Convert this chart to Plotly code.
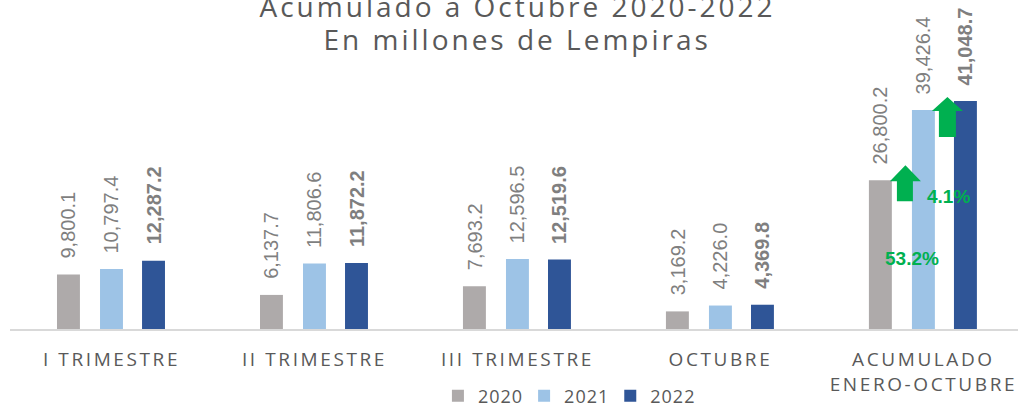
import plotly.graph_objects as go

categories = ["I TRIMESTRE", "II TRIMESTRE", "III TRIMESTRE", "OCTUBRE", "ACUMULADO<br>ENERO-OCTUBRE"]
years = ["2020", "2021", "2022"]
v2020 = [9800.1, 6137.7, 7693.2, 3169.2, 26800.2]
v2021 = [10797.4, 11806.6, 12596.5, 4226.0, 39426.4]
v2022 = [12287.2, 11872.2, 12519.6, 4369.8, 41048.7]
growth_labels = ["53.2%", "4.1%"]
title_lines = ["Acumulado a Octubre 2020-2022", "En millones de Lempiras"]

colors = ["#AEAAAA", "#9DC3E6", "#2F5597"]
series = [v2020, v2021, v2022]
centers = [-0.212, 0.0, 0.207]
bar_w = 0.113

xs = list(range(len(categories)))
YMAX = 59233
PX_X = 1 / 203.0       # category units per pixel
PX_Y = YMAX / 329.0    # value units per pixel

fig = go.Figure()
for i, (yr, vals) in enumerate(zip(years, series)):
    fig.add_trace(go.Bar(
        x=xs, y=vals, name=yr,
        marker=dict(color=colors[i], line=dict(width=0)),
        width=bar_w, offset=centers[i] - bar_w / 2,
        hovertemplate="%{y:,.1f}<extra>" + yr + "</extra>",
    ))

# value labels (rotated, above each bar)
for i, vals in enumerate(series):
    bold = i == 2
    for xc, v in zip(xs, vals):
        fig.add_annotation(
            x=xc + centers[i], y=v, xref="x", yref="y",
            text=(f"<b>{v:,.1f}</b>" if bold else f"{v:,.1f}"),
            textangle=-90, showarrow=False, xanchor="center", yanchor="bottom", yshift=14,
            font=dict(family="Liberation Sans, Arial", size=20, color="#7F7F7F"),
        )

# growth arrows on the accumulated group
def arrow_path(xc, x_head_l, x_head_r, x_sh_l, x_sh_r, y_tip, y_base, y_bot):
    return (f"M {xc + x_sh_l} {y_bot} L {xc + x_sh_r} {y_bot} L {xc + x_sh_r} {y_base} "
            f"L {xc + x_head_r} {y_base} L {xc + (x_head_l + x_head_r) / 2} {y_tip} "
            f"L {xc + x_head_l} {y_base} L {xc + x_sh_l} {y_base} Z")

k = len(categories) - 1
a1_base = v2020[k]
a2_base = v2021[k]
fig.add_shape(type="path", xref="x", yref="y", fillcolor="#00B050", line=dict(width=0),
              path=arrow_path(k, -33.5 * PX_X, -2.5 * PX_X, -26.5 * PX_X, -10.5 * PX_X,
                              a1_base + 15 * PX_Y, a1_base - 1 * PX_Y, a1_base - 21 * PX_Y))
fig.add_shape(type="path", xref="x", yref="y", fillcolor="#00B050", line=dict(width=0),
              path=arrow_path(k, 8.5 * PX_X, 39.5 * PX_X, 15.5 * PX_X, 32.5 * PX_X,
                              a2_base + 13 * PX_Y, a2_base - 1 * PX_Y, a2_base - 27 * PX_Y))
fig.add_annotation(x=k - 11.5 * PX_X, y=71 * PX_Y, xref="x", yref="y", text=f"<b>{growth_labels[0]}</b>",
                   showarrow=False, font=dict(family="Liberation Sans Narrow, Arial Narrow, Liberation Sans", size=19, color="#00B050"))
fig.add_annotation(x=k + 25.5 * PX_X, y=133 * PX_Y, xref="x", yref="y", text=f"<b>{growth_labels[1]}</b>",
                   showarrow=False, font=dict(family="Liberation Sans Narrow, Arial Narrow, Liberation Sans", size=19, color="#00B050"))

# title (two lines)
fig.add_annotation(x=0.503, y=0.9818, xref="paper", yref="paper", xanchor="center", yanchor="middle",
                   text=title_lines[0], showarrow=False, name="title",
                   font=dict(family="Open Sans", size=28, color="#595959"))
fig.add_annotation(x=0.503, y=0.8815, xref="paper", yref="paper", xanchor="center", yanchor="middle",
                   text=title_lines[1], showarrow=False, name="title",
                   font=dict(family="Open Sans", size=28, color="#595959"))

fig.update_layout(
    width=1018, height=408,
    margin=dict(l=10, r=0, t=0, b=79, autoexpand=False),
    paper_bgcolor="white", plot_bgcolor="white",
    barmode="overlay",
    showlegend=True,
    legend=dict(orientation="h", x=0.553, xanchor="center", y=-0.204, yanchor="middle",
                font=dict(family="Open Sans", size=18, color="#595959"),
                itemwidth=30, traceorder="normal"),
    xaxis=dict(range=[-0.5, 4.466], tickvals=xs, ticktext=categories, showgrid=False,
               showline=True, linecolor="#D9D9D9", linewidth=2, ticks="",
               tickfont=dict(family="Open Sans", size=19, color="#595959"),
               ticklabelstandoff=12, zeroline=False, automargin=False),
    yaxis=dict(range=[0, YMAX], visible=False, showgrid=False, zeroline=False, automargin=False),
)

post = """
var gd = document.getElementById('{plot_id}');
gd.querySelectorAll('.annotation text').forEach(function(t){
  if (t.textContent.indexOf('Acumulado a') === 0 || t.textContent.indexOf('En millones') === 0) {
    t.style.letterSpacing = '3px';
  }
});
gd.querySelectorAll('.xtick text').forEach(function(t){t.style.letterSpacing='2.6px';});
gd.querySelectorAll('text.legendtext').forEach(function(t){t.style.letterSpacing='1px';});
"""
fig.write_html("out.html", post_script=post)
